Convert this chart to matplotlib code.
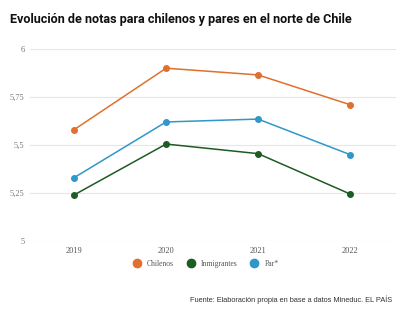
import matplotlib.pyplot as plt
from matplotlib.lines import Line2D

years = ['2019', '2020', '2021', '2022']
chilenos = [5.58, 5.90, 5.865, 5.71]
inmigrantes = [5.24, 5.505, 5.455, 5.245]
par = [5.33, 5.62, 5.635, 5.45]
y_ticks = [5, 5.25, 5.5, 5.75, 6]
y_labels = ['5', '5,25', '5,5', '5,75', '6']

series = [('Chilenos', chilenos, '#e0702f'),
          ('Inmigrantes', inmigrantes, '#1d5c22'),
          ('Par*', par, '#2f97c9')]

fig = plt.figure(figsize=(4.14, 3.2), dpi=100)
ax = fig.add_axes([30 / 414, 1 - 241 / 320, 366 / 414, 192 / 320])

x = range(len(years))
for name, vals, color in series:
    ax.plot(x, vals, color=color, linewidth=1.1, marker='o', markersize=4, zorder=3)

ax.set_ylim(5, 6)
ax.set_xlim(-0.48, 3.5)
ax.set_yticks(y_ticks)
ax.set_yticklabels(y_labels, fontfamily='Liberation Serif', fontsize=6, color='#777777')
ax.set_xticks(list(x))
ax.set_xticklabels(years, fontfamily='Liberation Serif', fontsize=6, color='#555555')
ax.tick_params(length=0, pad=4)
ax.grid(axis='y', color='#e6e6e6', linewidth=0.8)
for s in ax.spines.values():
    s.set_visible(False)

fig.text(10 / 414, 1 - 20 / 320, 'Evolución de notas para chilenos y pares en el norte de Chile',
         fontfamily='Roboto', fontweight='bold', fontsize=9.1, va='center', ha='left', color='#111111')

handles = [Line2D([], [], linestyle='none', marker='o', markersize=6, color=c) for _, _, c in series]
fig.legend(handles, [n for n, _, _ in series], loc='center', bbox_to_anchor=(204 / 414, 1 - 264 / 320),
           ncol=3, frameon=False, prop={'family': 'Liberation Serif', 'size': 5.5},
           handletextpad=0.3, columnspacing=1.2, labelcolor='#555555')

fig.text(392 / 414, 1 - 300 / 320, 'Fuente: Elaboración propia en base a datos Mineduc. EL PAÍS',
         fontfamily='Liberation Sans', fontsize=5.3, ha='right', va='center', color='#333333')

fig.savefig('out.png', dpi=100)
